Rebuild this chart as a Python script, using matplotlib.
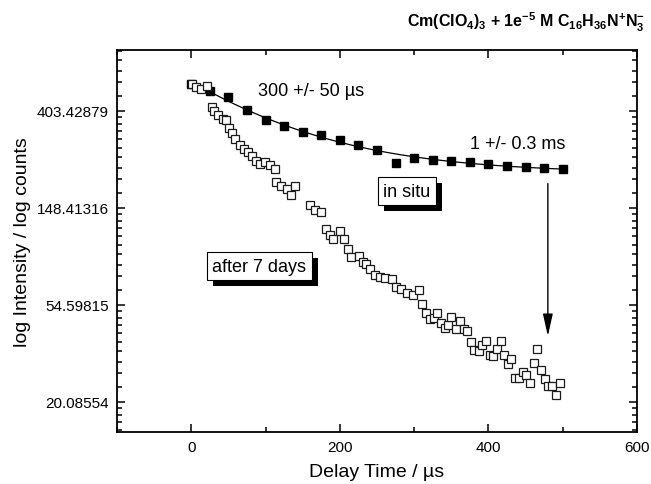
import numpy as np
import matplotlib
matplotlib.use('Agg')
import matplotlib.pyplot as plt
from matplotlib import patheffects as pe
from matplotlib.ticker import FixedLocator, FixedFormatter, NullFormatter, MultipleLocator

plt.rcParams['font.family'] = ['Liberation Sans', 'DejaVu Sans']
plt.rcParams['mathtext.fontset'] = 'custom'
plt.rcParams['mathtext.rm'] = 'Liberation Sans'
plt.rcParams['mathtext.bf'] = 'Liberation Sans:bold'
plt.rcParams['mathtext.default'] = 'bf'

# ---------------- data ----------------
insitu_t = [0, 25, 50, 75, 100, 125, 150, 175, 200, 225, 250, 275, 300, 325,
            350, 375, 400, 425, 450, 475, 500]
insitu_counts = [532.5, 497.0, 464.4, 408.5, 368.7, 346.5, 326.0, 315.1, 300.0,
                 284.0, 269.9, 235.4, 249.4, 244.2, 240.1, 237.7, 233.0, 228.2,
                 227.2, 224.1, 221.9]

aged_t = [1.2, 6.2, 12.5, 20.6, 27.3, 30.8, 36.2, 42.1, 46.1, 51.0, 55.0, 58.6,
          65.4, 71.1, 76.5, 81.1, 86.9, 92.3, 99.0, 105.7, 112.4, 114.7, 121.4,
          128.2, 134.9, 139.3, 159.5, 166.2, 175.2, 181.0, 186.4, 190.8, 200.8,
          205.2, 211.0, 215.6, 225.8, 231.2, 235.7, 241.1, 246.9, 253.6, 260.4,
          270.2, 276.1, 281.9, 290.9, 298.4, 306.1, 311.0, 316.4, 320.9, 326.2,
          330.7, 335.7, 341.0, 345.5, 350.1, 355.8, 361.2, 366.6, 371.6, 376.0,
          380.4, 386.8, 391.2, 396.2, 401.6, 406.0, 411.4, 416.4, 420.8, 426.2,
          430.7, 435.2, 440.6, 446.3, 450.9, 455.4, 460.7, 465.7, 471.1, 475.5,
          480.0, 485.9, 490.3, 495.7]
# natural-log counts (the quantity on the y axis)
aged_log_counts = [6.281, 6.247, 6.223, 6.258, 6.041, 5.996, 5.955, 5.913, 5.903,
                   5.825, 5.776, 5.714, 5.653, 5.611, 5.577, 5.532, 5.480, 5.457,
                   5.474, 5.439, 5.405, 5.268, 5.227, 5.192, 5.137, 5.227, 5.027,
                   4.975, 4.959, 4.779, 4.725, 4.676, 4.763, 4.676, 4.580, 4.495,
                   4.505, 4.443, 4.419, 4.367, 4.312, 4.289, 4.278, 4.264, 4.186,
                   4.161, 4.127, 4.106, 4.151, 4.013, 3.918, 3.859, 3.866, 3.921,
                   3.814, 3.763, 3.790, 3.879, 3.756, 3.835, 3.756, 3.728, 3.619,
                   3.532, 3.526, 3.584, 3.629, 3.488, 3.470, 3.542, 3.625, 3.480,
                   3.392, 3.446, 3.247, 3.247, 3.309, 3.281, 3.196, 3.402, 3.542,
                   3.333, 3.240, 3.165, 3.161, 3.068, 3.196]

ytick_vals = [20.08554, 54.59815, 148.41316, 403.42879]
ytick_labels = ['20.08554', '54.59815', '148.41316', '403.42879']
xtick_vals = [0, 200, 400, 600]
xtick_labels = ['0', '200', '400', '600']

# ---------------- figure ----------------
W, H = 651, 485
fig = plt.figure(figsize=(W / 100, H / 100), dpi=100)
ax = fig.add_axes([117 / W, 52 / H, (637 - 117) / W, (433 - 51) / H])

ax.set_yscale('log', base=np.e)
ax.set_xlim(-100, 600)
ax.set_ylim(np.exp(2.69), np.exp(6.629))

# smooth decay fit through the in-situ points (exponential + offset)
t_arr = np.array(insitu_t, float)
c_arr = np.array(insitu_counts, float)
best = None
for tau in np.arange(20.0, 800.0, 1.0):
    M = np.column_stack([np.exp(-t_arr / tau), np.ones_like(t_arr)])
    coef, *_ = np.linalg.lstsq(M, c_arr, rcond=None)
    pred = M @ coef
    r = np.sum((np.log(pred) - np.log(c_arr)) ** 2) if np.all(pred > 0) else np.inf
    if best is None or r < best[0]:
        best = (r, tau, coef)
_, tau_b, coef_b = best
tfit = np.linspace(0, 500, 300)
yfit = coef_b[0] * np.exp(-tfit / tau_b) + coef_b[1]
ax.plot(tfit, yfit, color='black', lw=0.9, zorder=2)

ax.plot(insitu_t, insitu_counts, 's', color='black', ms=5.2, zorder=3)
ax.plot(aged_t, np.exp(aged_log_counts), 's', mfc='white', mec='#1a1a1a',
        ms=6.0, mew=0.9, zorder=4)

# ticks
ax.yaxis.set_major_locator(FixedLocator(ytick_vals))
ax.yaxis.set_major_formatter(FixedFormatter(ytick_labels))
minor = []
for n in range(2, 7):
    lo, hi = np.exp(n), np.exp(n + 1)
    minor += [lo + k * (hi - lo) / 10 for k in range(1, 10)]
ax.yaxis.set_minor_locator(FixedLocator(minor))
ax.yaxis.set_minor_formatter(NullFormatter())
ax.xaxis.set_major_locator(FixedLocator(xtick_vals))
ax.xaxis.set_major_formatter(FixedFormatter(xtick_labels))
ax.xaxis.set_minor_locator(MultipleLocator(100))

ax.tick_params(which='both', direction='in', top=True, right=True, width=1.1,
               labelsize=11, pad=6)
ax.tick_params(which='major', length=6)
ax.tick_params(which='minor', length=3.5)
for s in ax.spines.values():
    s.set_linewidth(1.3)

ax.set_xlabel('Delay Time / µs', fontsize=14, labelpad=6)
ax.set_ylabel('log Intensity / log counts', fontsize=14, labelpad=4)

# annotations
ax.text(90, 498.7, '300 +/- 50 µs', fontsize=13, ha='left', va='center')
ax.text(375, 288, '1 +/- 0.3 ms', fontsize=13, ha='left', va='center')

for (x, y, s) in [(290, 176.1, 'in situ'), (91.6, 81.5, 'after 7 days')]:
    t = ax.text(x, y, s, fontsize=13, ha='center', va='center', zorder=6,
                bbox=dict(boxstyle='square,pad=0.3', fc='white', ec='black', lw=0.8))
    t.get_bbox_patch().set_path_effects([
        pe.SimplePatchShadow(offset=(4.3, -4.1), shadow_rgbFace='black', alpha=1.0),
        pe.Normal()])

ax.annotate('', xy=(480, 39.6), xytext=(480, 190.8),
            arrowprops=dict(arrowstyle='-|>,head_length=0.9,head_width=0.2',
                            color='black', lw=1.0, mutation_scale=15,
                            shrinkA=0, shrinkB=0))

fig.text(645 / W, 1 - 22.5 / H,
         r'Cm(ClO$_{4}$)$_{3}$ + 1e$^{-5}$ M C$_{16}$H$_{36}$N$^{+}$N$_{3}^{-}$',
         fontsize=11.5, fontweight='bold', ha='right', va='center')

fig.savefig('out.png', dpi=100)
